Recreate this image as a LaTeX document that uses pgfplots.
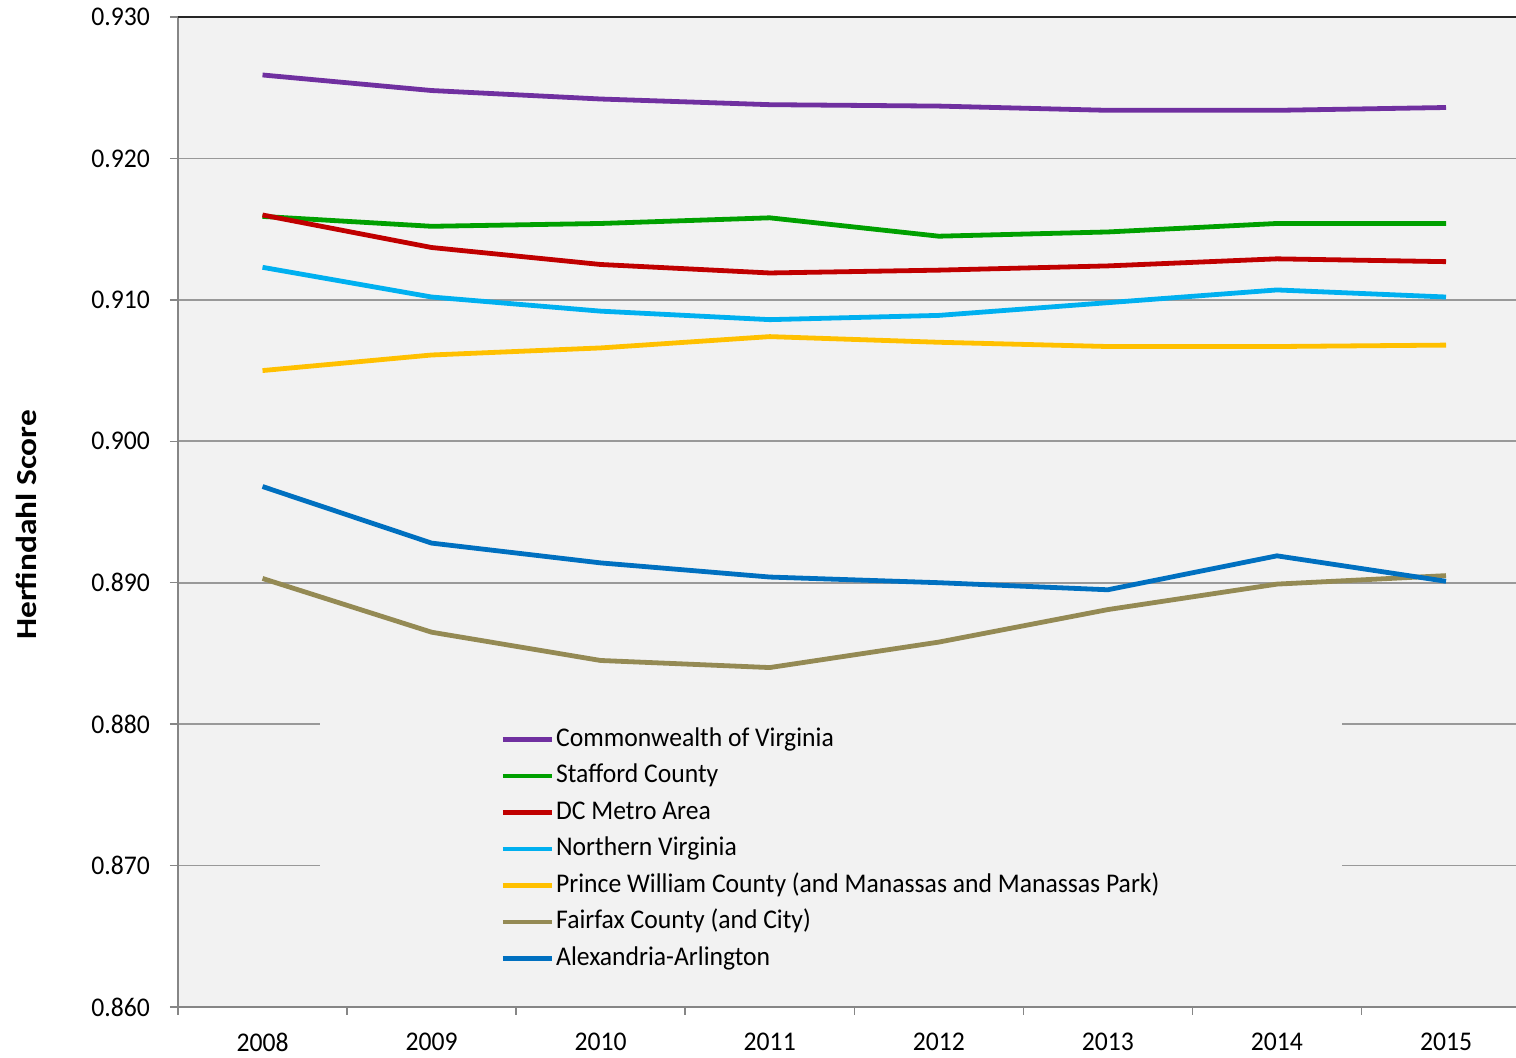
\documentclass[border=0pt]{standalone}
\usepackage{fontspec}
\setmainfont[FakeStretch=0.95]{Carlito}
\newfontfamily\labelfont[FakeStretch=1.15]{Carlito}
\usepackage{pgfplots}
\pgfplotsset{compat=1.18}
\definecolor{bg}{HTML}{F2F2F2}
\definecolor{gridgray}{HTML}{999999}
\definecolor{axisgray}{HTML}{868686}
\definecolor{cpurple}{HTML}{7030A0}
\definecolor{cgreen}{HTML}{00A000}
\definecolor{cred}{HTML}{C00000}
\definecolor{clblue}{HTML}{00B0F0}
\definecolor{cyellow}{HTML}{FFC000}
\definecolor{colive}{HTML}{948A54}
\definecolor{cblue}{HTML}{0070C0}
\begin{document}
\begin{tikzpicture}
\useasboundingbox (-89pt,-25.5pt) rectangle (669pt,503.5pt);
\begin{axis}[
  at={(0pt,0pt)}, anchor=south west,
  scale only axis, width=669pt, height=495pt,
  xmin=-0.5, xmax=7.414, ymin=0.860, ymax=0.930,
  clip=false,
  axis background/.style={fill=bg},
  axis x line*=bottom, axis y line*=left,
  axis line style={-, draw=axisgray, line width=0.75pt},
  xtick={0,1,2,3,4,5,6,7},
  xticklabels={2008,2009,2010,2011,2012,2013,2014,2015},
  minor xtick={-0.5,0.5,1.5,2.5,3.5,4.5,5.5,6.5},
  major x tick style={draw=none},
  minor x tick style={draw=axisgray, line width=0.75pt},
  minor tick length=4pt,
  ytick={0.860,0.870,0.880,0.890,0.900,0.910,0.920,0.930},
  major y tick style={draw=axisgray, line width=0.75pt},
  major tick length=4pt,
  tick align=outside,
  ymajorgrids, grid style={draw=gridgray, line width=0.8pt},
  ticklabel style={font=\fontsize{13.5}{16}\selectfont},
  yticklabel style={xshift=-6.5pt, /pgf/number format/.cd, fixed, fixed zerofill, precision=3, assume math mode=true},
  xticklabel style={yshift=-5.5pt, /pgf/number format/assume math mode=true},
  ylabel={Herfindahl Score},
  ylabel style={at={(axis description cs:-0.1136,0.487)}, rotate=0, anchor=center, font=\labelfont\bfseries\fontsize{14.5}{17}\selectfont},
  legend style={at={(axis description cs:0.1061,0.31)}, anchor=north west, fill=bg, draw=none,
    inner xsep=90pt, inner ysep=12pt, font=\fontsize{13.5}{16}\selectfont,
    cells={anchor=west}, row sep=3.25pt,
    nodes={inner sep=1pt, text height=10pt, text depth=3pt}},
  legend image code/.code={\draw[#1] (0pt,0pt) -- (24.5pt,0pt);},
  every axis plot/.append style={line width=2.4pt, line join=round},
]
\addplot[cpurple] coordinates {(0,0.9259) (1,0.9248) (2,0.9242) (3,0.9238) (4,0.9237) (5,0.9234) (6,0.9234) (7,0.9236)};
\addlegendentry{Commonwealth of Virginia}
\addplot[cgreen] coordinates {(0,0.9159) (1,0.9152) (2,0.9154) (3,0.9158) (4,0.9145) (5,0.9148) (6,0.9154) (7,0.9154)};
\addlegendentry{Stafford County}
\addplot[cred] coordinates {(0,0.9160) (1,0.9137) (2,0.9125) (3,0.9119) (4,0.9121) (5,0.9124) (6,0.9129) (7,0.9127)};
\addlegendentry{DC Metro Area}
\addplot[clblue] coordinates {(0,0.9123) (1,0.9102) (2,0.9092) (3,0.9086) (4,0.9089) (5,0.9098) (6,0.9107) (7,0.9102)};
\addlegendentry{Northern Virginia}
\addplot[cyellow] coordinates {(0,0.9050) (1,0.9061) (2,0.9066) (3,0.9074) (4,0.9070) (5,0.9067) (6,0.9067) (7,0.9068)};
\addlegendentry{Prince William County (and Manassas and Manassas Park)}
\addplot[colive] coordinates {(0,0.8903) (1,0.8865) (2,0.8845) (3,0.8840) (4,0.8858) (5,0.8881) (6,0.8899) (7,0.8905)};
\addlegendentry{Fairfax County (and City)}
\addplot[cblue] coordinates {(0,0.8968) (1,0.8928) (2,0.8914) (3,0.8904) (4,0.8900) (5,0.8895) (6,0.8919) (7,0.8901)};
\addlegendentry{Alexandria-Arlington}
\draw[black!85, line width=1pt] (rel axis cs:0,1) -- (rel axis cs:1,1);
\end{axis}
\end{tikzpicture}
\end{document}
